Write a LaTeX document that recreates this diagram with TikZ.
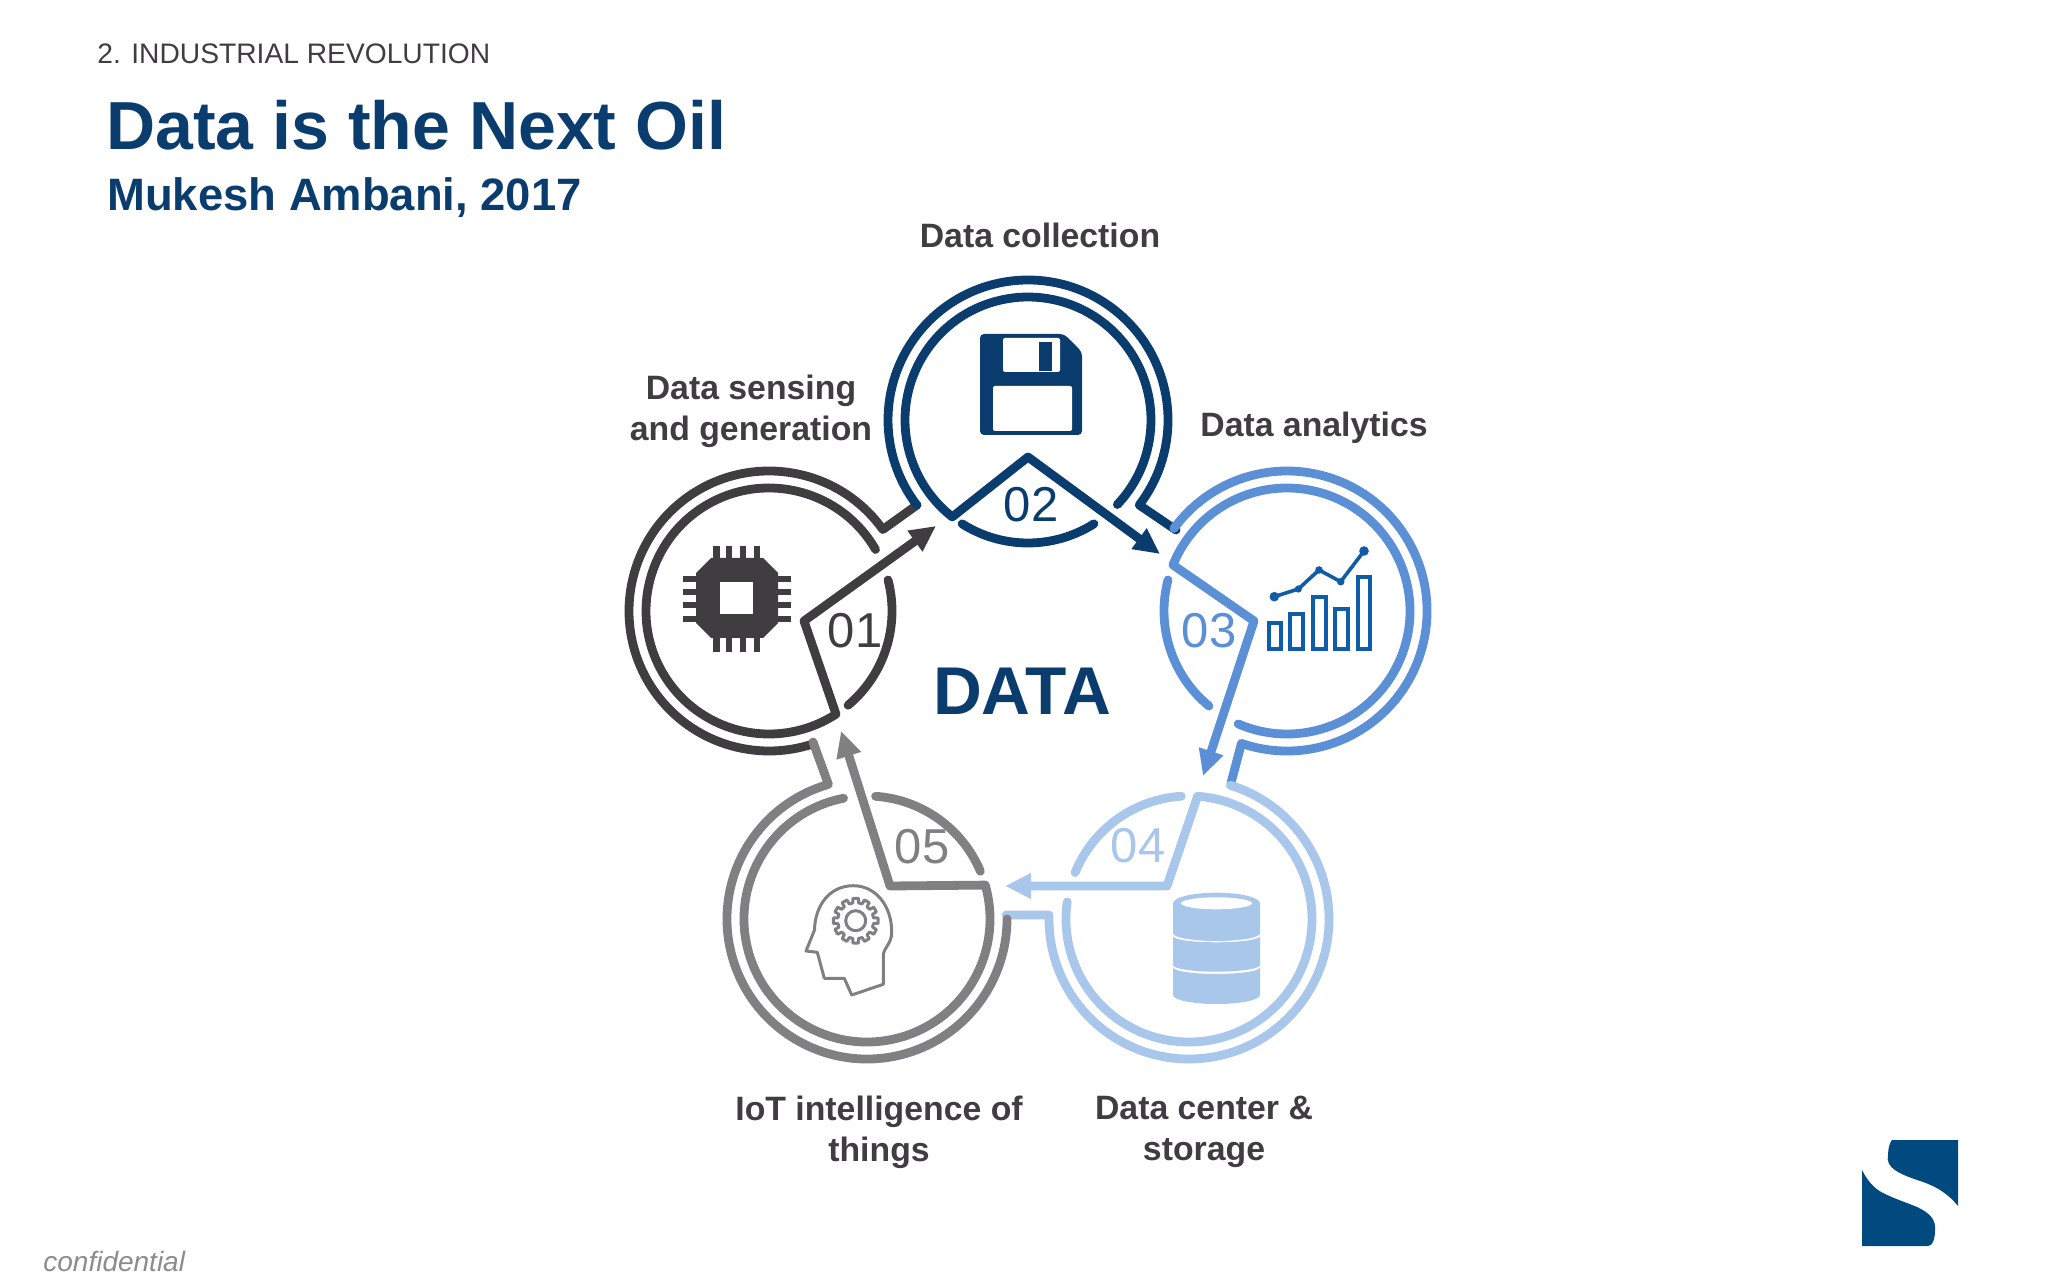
\documentclass[tikz,border=0pt]{standalone}
\usepackage{fontspec}
\setmainfont{Liberation Sans}
\usetikzlibrary{arrows.meta,calc,positioning}
\definecolor{chipgrey}{HTML}{3F3D3F}
\definecolor{navy}{HTML}{0A3D6E}
\definecolor{midblue}{HTML}{5B8FD6}
\definecolor{paleblue}{HTML}{A9C6EB}
\definecolor{headgrey}{HTML}{808083}
\definecolor{barblue}{HTML}{0F5CA8}
\definecolor{logoblue}{HTML}{004A80}
\tikzset{%
  >={Triangle[width=12pt,length=13pt]},
  % Specifications for style of rings and nodes:
      ring/.style = {line width=4.4pt, line cap=round, line join=round},
  ringOne/.style = {ring, draw=chipgrey},
  ringTwo/.style = {ring, draw=navy},
  ringThree/.style = {ring, draw=midblue},
  ringFour/.style = {ring, draw=paleblue},
  ringFive/.style = {ring, draw=headgrey},
  numtext/.style = {inner sep=0pt, font=\fontsize{24.5}{28}\selectfont},
  steplabel/.style = {inner sep=0pt, align=center, text=chipgrey,
                      font=\fontsize{16.9}{20.4}\selectfont\bfseries},
}
\begin{document}
\begin{tikzpicture}[x=0.5pt,y=0.5pt]
  \useasboundingbox (0,0) rectangle (2048,1280);
  % Headings
  \node (kicker) [anchor=west, inner sep=0pt, text=chipgrey, font=\fontsize{14.1}{17}\selectfont] at (97,1226) {2. INDUSTRIAL REVOLUTION};
  \node (title) [anchor=west, inner sep=0pt, text=navy, font=\fontsize{34}{40}\selectfont\bfseries] at (106,1155) {Data is the Next Oil};
  \node (subtitle) [anchor=west, inner sep=0pt, text=navy, font=\fontsize{22.7}{27}\selectfont\bfseries] at (107,1082) {Mukesh Ambani, 2017};
  \node (confid) [anchor=west, inner sep=0pt, text=black!45, font=\fontsize{14}{17}\selectfont\itshape] at (43,19) {confidential};
  % Centres of the circles
  \coordinate (c1) at (769,669);
  \coordinate (c2) at (1028,860);
  \coordinate (c3) at (1287,669);
  \coordinate (c4) at (1189,361);
  \coordinate (c5) at (867,361);
  % Corners and tips of the wedges
  \coordinate (a1) at (804,659);
  \coordinate (t1) at (936,754);
  \coordinate (a2) at (1028,823);
  \coordinate (t2) at (1160,726);
  \coordinate (a3) at (1254,659);
  \coordinate (t3) at (1203,504);
  \coordinate (a4) at (1167,394);
  \coordinate (t4) at (1005,394);
  \coordinate (a5) at (890,394);
  \coordinate (t5) at (841,549);
  % Outer rings with their stubs
  \draw[ringOne] (917,775) -- ($(c1)+(35.6:140)$) arc[start angle=35.6,end angle=288.6,radius=140];
  \draw[ringTwo] (1176,750) -- ($(c2)+(-37.4:140)$) arc[start angle=-37.4,end angle=217.4,radius=140];
  \draw[ringThree] (1231,497) -- ($(c3)+(251:140)$) arc[start angle=251,end angle=503.9,radius=140];
  \draw[ringFour] (1006,365) -- (1049,365) -- ($(c4)+(180:140)$) arc[start angle=180,end angle=432.8,radius=140];
  \draw[ringFive] (813,538) -- ($(c5)+(106:140)$) arc[start angle=106,end angle=360,radius=140];
  % Inner rings, running on into the arrows
  \draw[ringOne,->] ($(c1)+(30:123)$) arc[start angle=30,end angle=303,radius=123] -- (a1) -- (t1);
  \draw[ringTwo,->] ($(c2)+(-43.4:123)$) arc[start angle=-43.4,end angle=232,radius=123] -- (a2) -- (t2);
  \draw[ringThree,->] ($(c3)+(246.6:123)$) arc[start angle=246.6,end angle=518,radius=123] -- (a3) -- (t3);
  \draw[ringFour,->] ($(c4)+(172:123)$) arc[start angle=172,end angle=446,radius=123] -- (a4) -- (t4);
  \draw[ringFive,->] ($(c5)+(101:123)$) arc[start angle=101,end angle=376,radius=123] -- (a5) -- (t5);
  % Short arcs beside the numbers
  \draw[ringOne] ($(c1)+(-50:123)$) arc[start angle=-50,end angle=14.6,radius=123];
  \draw[ringTwo] ($(c2)+(237.6:123)$) arc[start angle=237.6,end angle=302.4,radius=123];
  \draw[ringThree] ($(c3)+(165.4:123)$) arc[start angle=165.4,end angle=230.6,radius=123];
  \draw[ringFour] ($(c4)+(93.6:123)$) arc[start angle=93.6,end angle=157.8,radius=123];
  \draw[ringFive] ($(c5)+(22.8:123)$) arc[start angle=22.8,end angle=86,radius=123];
  % Numbers and labels
  \node (num1) [numtext, text=chipgrey] at (855,649) {01};
  \node (num2) [numtext, text=navy] at (1031,775) {02};
  \node (num3) [numtext, text=midblue] at (1209,649) {03};
  \node (num4) [numtext, text=paleblue] at (1138,434) {04};
  \node (num5) [numtext, text=headgrey] at (922,433) {05};
  \node (data) [inner sep=0pt, text=navy, font=\fontsize{33.8}{40}\selectfont\bfseries] at (1022,589) {DATA};
  \node (collect) [steplabel] at (1040,1045) {Data collection};
  \node (sensing) [steplabel] at (751,869) {Data sensing\\and generation};
  \node (analytics) [steplabel] at (1314,852) {Data analytics};
  \node (iot) [steplabel] at (879,148) {IoT intelligence of\\things};
  \node (center) [steplabel] at (1204,148) {Data center \&\\storage};
  % Chip
  \foreach \px in {716.5,729,743,757}
    \fill[chipgrey] (\px-3.2,628) rectangle (\px+3.2,734);
  \foreach \py in {661,675,688,701}
    \fill[chipgrey] (683,\py-3.2) rectangle (791,\py+3.2);
  \fill[chipgrey] (711,642) -- (696,657) -- (696,707) -- (711,722) -- (763,722) -- (778,707) -- (778,657) -- (763,642) -- cycle;
  \fill[white] (720,666) rectangle (753,698);
  % Floppy disk
  \fill[navy, rounded corners=2pt] (980,845) -- (980,946) -- (1064,946) -- (1082,928) -- (1082,845) -- cycle;
  \fill[white, rounded corners=1pt] (1003,908) rectangle (1060,942);
  \fill[navy] (1039,909) rectangle (1052,938);
  \fill[white, rounded corners=1pt] (993,849) rectangle (1072,894);
  % Bar chart
  \draw[barblue, line width=2pt] (1268.6,631) rectangle (1281.4,656.6);
  \draw[barblue, line width=2pt] (1290.2,631) rectangle (1303.1,665.6);
  \draw[barblue, line width=2pt] (1312.9,631) rectangle (1325.8,682.6);
  \draw[barblue, line width=2pt] (1335.2,631) rectangle (1348.1,671);
  \draw[barblue, line width=2pt] (1357.6,631) rectangle (1369.8,702.6);
  \draw[barblue, line width=1.8pt] (1274.3,683.3) -- (1298.3,691) -- (1319,710) -- (1340.7,698.3) -- (1364,729);
  \fill[barblue] (1274.3,683.3) circle (4.8) (1298.3,691) circle (3.6) (1319,710) circle (3.8) (1340.7,698.3) circle (3.8) (1364,729) circle (4.8);
  % Database
  \fill[paleblue] (1173,346.7) arc[start angle=180,end angle=360,x radius=43.5,y radius=7.7] -- (1260,376.7) arc[start angle=0,end angle=180,x radius=43.5,y radius=10.6] -- cycle;
  \fill[paleblue] (1173,343.7) arc[start angle=180,end angle=360,x radius=43.5,y radius=6] -- (1260,315) arc[start angle=0,end angle=-180,x radius=43.5,y radius=6.7] -- cycle;
  \fill[paleblue] (1173,312.7) arc[start angle=180,end angle=360,x radius=43.5,y radius=6.7] -- (1260,285) arc[start angle=0,end angle=-180,x radius=43.5,y radius=9] -- cycle;
  \fill[white] (1216.5,376.7) ellipse [x radius=35.5,y radius=6];
  % Head with gear
  \draw[headgrey, line width=1.5pt, line join=round] (851.7,285) -- (883.3,295.7) -- (883.3,325) .. controls (884,333) and (891.7,336) .. (891.7,348) .. controls (891.7,375) and (875,394.3) .. (853.3,394.3) .. controls (830,394.3) and (815,375) .. (814.5,350) -- (806,329) -- (817.3,327.7) -- (824.3,301.7) -- (844.3,301.7) -- cycle;
  \draw[headgrey, line width=1.5pt] (855.7,359.3) circle (10);
  \draw[headgrey, line width=1.5pt, line join=round, shift={(855.7,359.3)}] (-9:18)
    \foreach \a in {0,30,...,330} { -- (\a-9:18) -- (\a-7:22.5) -- (\a+7:22.5) -- (\a+9:18) } -- cycle;
  % Logo
  \fill[logoblue] (1892,140) -- (1958,140) -- (1958,74) .. controls (1945,90) and (1930,96) .. (1917,100) .. controls (1900,106) and (1885,112) .. (1888,125) .. controls (1888,132) and (1890,138) .. (1892,140) -- cycle;
  \fill[logoblue] (1862,110) .. controls (1868,98) and (1875,91) .. (1883,87) .. controls (1895,81) and (1905,78) .. (1917,73) .. controls (1930,67) and (1936,60) .. (1935,50) .. controls (1935,42) and (1933,34) .. (1928,34) -- (1862,34) -- cycle;
\end{tikzpicture}
\end{document}
